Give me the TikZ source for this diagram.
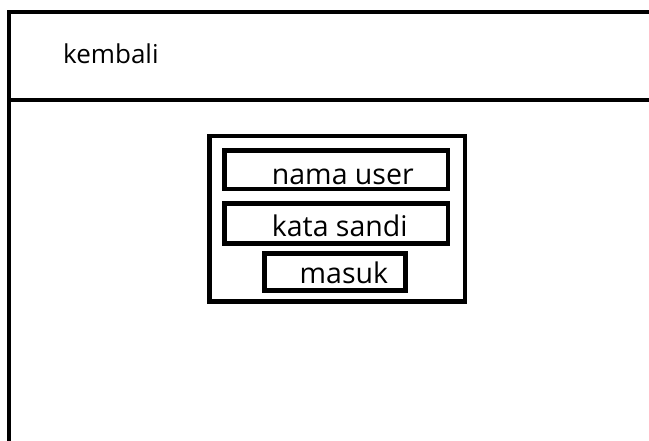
\documentclass[tikz,border=0pt]{standalone}
\usepackage{fontspec}
\setmainfont{Open Sans}
\begin{document}
\begin{tikzpicture}[x=1pt,y=-1pt,
  frameline/.style={line width=4pt,black},
  boxline/.style={draw=black,line width=4.4pt,rectangle,inner sep=0pt},
  uitext/.style={anchor=base west,inner sep=0pt,font=\fontsize{26}{30}\selectfont,text=black},
  fieldtext/.style={uitext,font=\fontsize{28.5}{32}\selectfont}]
\useasboundingbox (0,0) rectangle (649,441);
\fill[white] (0,0) rectangle (649,441);
% outer window frame (right and bottom edges fall outside the page)
\draw[frameline] (9.3,470) -- (9.3,12) -- (680,12);
\draw[frameline] (9.3,99.7) -- (680,99.7);
\node[uitext] (kembali) at (63,63.3) {kembali};
% login panel
\node[boxline,minimum width=255.3pt,minimum height=165.2pt] (panel) at (337.3,218.9) {};
\node[boxline,minimum width=223.5pt,minimum height=38.5pt] (nama) at (336.2,169.8) {};
\node[boxline,minimum width=223.5pt,minimum height=40pt] (kata) at (336.2,223.5) {};
\node[boxline,minimum width=141pt,minimum height=37pt] (masuk) at (335,272) {};
\node[fieldtext] (tnama) at (271.7,184.5) {nama user};
\node[fieldtext] (tkata) at (271.7,236.5) {kata sandi};
\node[fieldtext] (tmasuk) at (299.5,284) {masuk};
\end{tikzpicture}
\end{document}
